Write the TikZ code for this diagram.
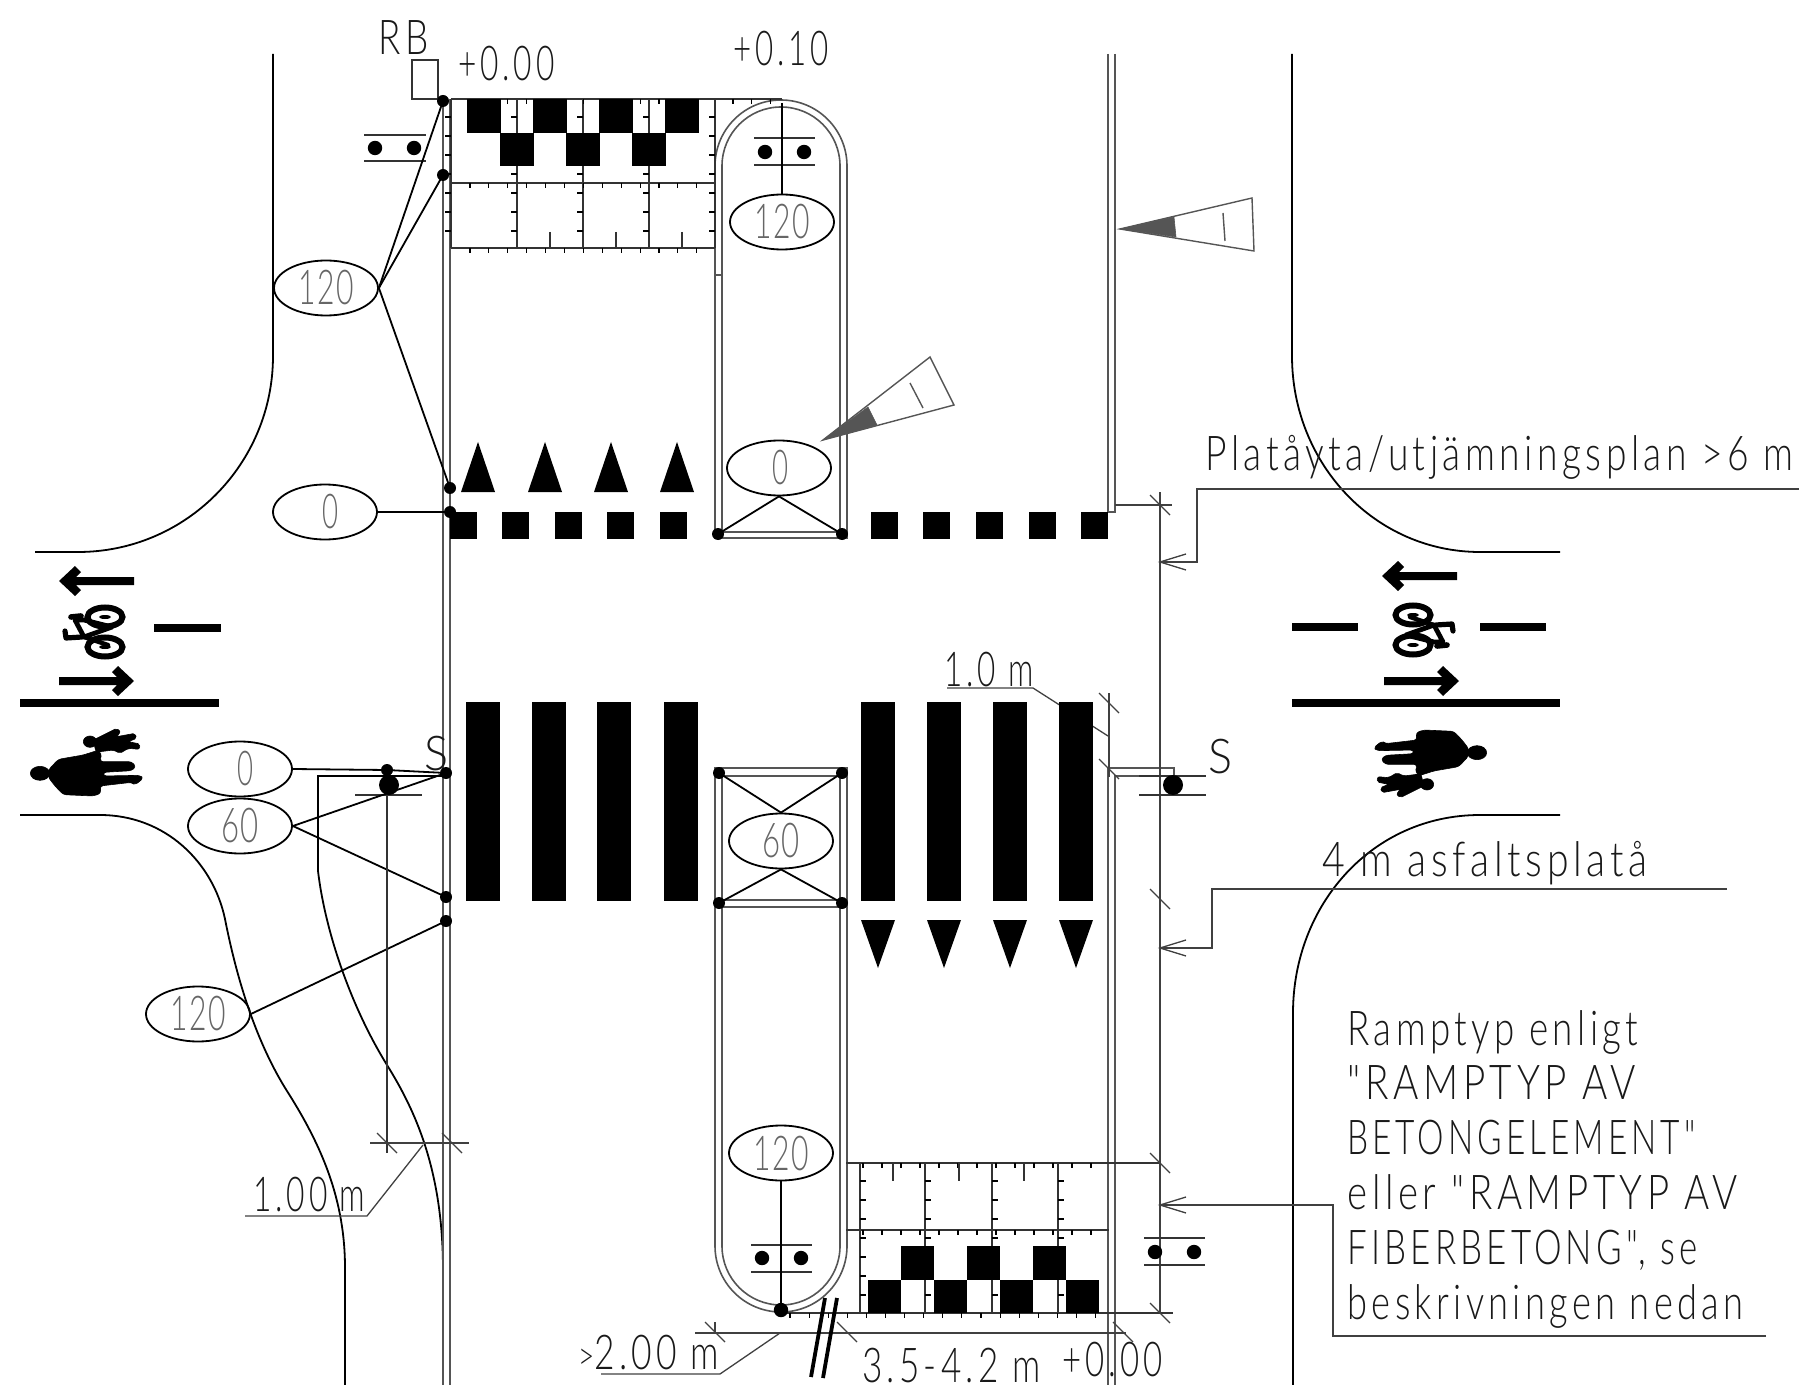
\documentclass[tikz,border=0pt]{standalone}
\usepackage{fontspec}
\usepackage{graphicx}
\usetikzlibrary{shapes.geometric}
\newfontfamily\cad{Lato Light}[LetterSpace=12]
\newfontfamily\cadn{Lato Light}[LetterSpace=6]
\newcommand\fitt[2]{\sbox0{#2}\pgfmathsetmacro\fsx{#1*0.5/\the\wd0}\scalebox{\fsx}[1]{\copy0}}
\definecolor{dbl}{HTML}{555555}
\definecolor{tgray}{HTML}{666666}
\tikzset{
  dline/.style={draw=dbl,line width=0.8pt},
  road/.style={draw=black,line width=0.9pt},
  thin1/.style={draw=black!80,line width=0.6pt},
  lead/.style={draw=black,line width=0.9pt},
  dimn/.style={draw=black!75,line width=0.65pt},
  tickm/.style={draw=black,line width=0.55pt},
  blk/.style={fill=black,draw=none},
  sil/.style={fill=black,draw=black,line width=0.3pt,line join=round},
  dotS/.style={circle,fill=black,inner sep=0pt,minimum size=6pt},
  dotM/.style={circle,fill=black,inner sep=0pt,minimum size=7.2pt},
  dotL/.style={circle,fill=black,inner sep=0pt,minimum size=10pt},
  ell/.style={ellipse,draw=black,line width=0.9pt,inner sep=0pt,minimum width=52pt,minimum height=27.5pt,text=tgray,font=\cadn\fontsize{24}{24}\selectfont},
  txt/.style={anchor=base west,inner sep=0pt,text=black!90,font=\cad\fontsize{24}{24}\selectfont},
  signtri/.style={draw=dbl,line width=0.7pt},
  signfill/.style={fill=dbl,draw=dbl,line width=0.3pt}
}
\newcommand\dslash[2]{\draw[dimn] ({#1-10},{#2-10}) -- ({#1+10},{#2+10});}
\newcommand\openarrow[2]{\draw[dimn] ({#1+26},{#2-8}) -- (#1,#2) -- ({#1+26},{#2+8});}
\newcommand\bigarrow[3]{\begin{scope}[shift={(#1,#2)},xscale=#3]
  \fill (0,0) -- (16,-15) -- (22,-9) -- (17,-4) -- (75,-4) -- (75,4) -- (17,4) -- (22,9) -- (16,15) -- cycle;
\end{scope}}
\newcommand\pedshape{%
  \begin{scope}[shift={(0,540)},scale=1/3]
  \fill[sil] (120,700) ellipse (29 and 21);
  \fill[sil,rounded corners=1.5pt] (145,690) -- (175,658) -- (250,645) -- (290,632) -- (305,640) -- (300,665) -- (395,665) -- (408,680) -- (395,692) -- (310,697) -- (310,708) -- (420,706) -- (430,715) -- (405,735) -- (395,727) -- (300,738) -- (303,760) -- (280,768) -- (190,764) -- (165,738) -- (145,712) -- cycle;
  \fill[sil] (270,605) ellipse (20 and 17);
  \fill[sil,rounded corners=1pt] (280,600) -- (350,565) -- (362,575) -- (350,590) -- (405,580) -- (410,595) -- (385,605) -- (420,612) -- (418,628) -- (385,625) -- (360,640) -- (340,630) -- (300,635) -- (290,640) -- (285,625) -- cycle;
  \end{scope}}
\newcommand\bikeshape{%
  \draw[line width=3pt] (105,617) ellipse (17.5 and 9.5);
  \draw[line width=3pt] (105,647) ellipse (17.5 and 9.5);
  \fill (105,617) ellipse (6 and 2);
  \fill (105,647) ellipse (6 and 2);
  \draw[line width=2.4pt,line cap=round,line join=round] (75,620) -- (84,637) -- (112,627) -- (84,620) -- cycle;
  \draw[line width=2.2pt,line cap=round] (84,637) -- (108,645);
  \draw[line width=2.6pt,line cap=round,line join=round] (65,631) -- (66,638) -- (82,637);
  \draw[line width=2.8pt,line cap=round] (71,617) -- (81,616);
}
\begin{document}
\begin{tikzpicture}[x=0.5pt,y=-0.5pt]
\useasboundingbox (0,0) rectangle (1799,1385);
% road edges
\draw[road] (273,54) -- (273,356) .. controls (273,464) and (186,552) .. (78,552) -- (35,552);
\draw[road] (20,815) -- (100,815) .. controls (165,815) and (213,862) .. (225,919) .. controls (238,985) and (258,1045) .. (287,1091) .. controls (322,1146) and (345,1200) .. (345,1268) -- (345,1385);
\draw[road] (443,776) -- (318,776) -- (318,871) .. controls (325,930) and (350,1005) .. (387,1065) .. controls (415,1110) and (443,1170) .. (443,1270);
\draw[road] (1292,54) -- (1292,356) .. controls (1292,464) and (1375,552) .. (1480,552) -- (1560,552);
\draw[road] (1560,815) -- (1480,815) .. controls (1372,815) and (1293,905) .. (1293,1013) -- (1293,1385);
% double kerb lines
\draw[dline] (443,99) -- (443,1385);
\draw[dline] (450,99) -- (450,1385);
\draw[dline] (1108,54) -- (1108,512);
\draw[dline] (1115,54) -- (1115,512) -- (1108,512);
\draw[dline] (1108,1385) -- (1108,768) -- (1174,768) -- (1174,776) -- (1115,776) -- (1115,1385);
% upper island
\draw[dline] (715,538) -- (715,166) arc[start angle=180,end angle=360,radius=66] -- (847,538) -- cycle;
\draw[dline] (722,532) -- (722,166) arc[start angle=180,end angle=360,radius=59] -- (840,532) -- cycle;
\draw[dline] (715,275) -- (722,275);
% lower island
\draw[dline] (715,1246) -- (715,768) -- (847,768) -- (847,1246) arc[start angle=0,end angle=180,radius=66];
\draw[dline] (722,1246) -- (722,776) -- (840,776) -- (840,1246) arc[start angle=0,end angle=180,radius=59];
\draw[dline] (722,900) -- (840,900);
\draw[dline] (715,907) -- (847,907);
% upper grid
\draw[thin1,line width=0.8pt] (451,99) -- (782,99);
\draw[thin1,line width=0.8pt] (451,183) -- (715,183);
\draw[thin1,line width=0.8pt] (451,248) -- (715,248);
\foreach \vx in {451,517,583,649,715} {
  \draw[thin1,line width=0.8pt] (\vx,99) -- (\vx,248);
  \foreach \k in {0,...,6} \draw[tickm] (\vx,{117+19*\k}) -- ({\vx-6},{117+19*\k});
}
\foreach \k in {0,...,12} {
  \draw[tickm] ({470+18.9*\k},99) -- ({470+18.9*\k},104);
  \draw[tickm] ({470+18.9*\k},183) -- ({470+18.9*\k},188);
  \draw[tickm] ({470+18.9*\k},248) -- ({470+18.9*\k},253);
}
\foreach \k in {0,1,2} \draw[tickm] ({733+18.9*\k},99) -- ({733+18.9*\k},104);
\foreach \vx in {550,616,682} \draw[thin1] (\vx,232) -- (\vx,248);
% upper tactile squares
\foreach \vx in {467,533,599,665} \fill[blk] (\vx,99) rectangle ({\vx+34},133);
\foreach \vx in {500,566,632} \fill[blk] (\vx,133) rectangle ({\vx+34},166);
% lower grid
\draw[thin1,line width=0.8pt] (846,1163) -- (1160,1163);
\draw[thin1,line width=0.8pt] (846,1230) -- (1109,1230);
\draw[thin1,line width=0.8pt] (781,1313) -- (1173,1313);
\foreach \vx in {860,925,992,1058} {
  \draw[thin1,line width=0.8pt] (\vx,1163) -- (\vx,1313);
  \foreach \k in {0,...,6} \draw[tickm] (\vx,{1181+19*\k}) -- ({\vx+6},{1181+19*\k});
}
\foreach \k in {0,...,12} {
  \draw[tickm] ({863+19*\k},1163) -- ({863+19*\k},1168);
  \draw[tickm] ({863+19*\k},1230) -- ({863+19*\k},1235);
}
\foreach \k in {0,...,16} \draw[tickm] ({790+19.1*\k},1313) -- ({790+19.1*\k},1318);
\foreach \vx in {893,959,1024} \draw[thin1] (\vx,1163) -- (\vx,1181);
\foreach \vx in {868,934,1000,1066} \fill[blk] (\vx,1280) rectangle ({\vx+33},1313);
\foreach \vx in {901,967,1033} \fill[blk] (\vx,1246) rectangle ({\vx+33},1280);
% dimension line on the right and leaders
\draw[dimn,line width=0.8pt] (1160,492) -- (1160,1313);
\draw[dimn] (1115,505) -- (1172,505);
\dslash{1160}{505}
\dslash{1160}{899}
\dslash{1160}{1163}
\dslash{1160}{1313}
\coordinate (lp1) at (1799,489);
\coordinate (la1) at (1160,562);
\draw[dimn] (lp1) -- (1197,489) -- (1197,562) -- (la1);
\openarrow{1160}{562}
\coordinate (lp2) at (1727,889);
\coordinate (la2) at (1160,948);
\draw[dimn] (lp2) -- (1212,889) -- (1212,948) -- (la2);
\openarrow{1160}{948}
\coordinate (lp3) at (1766,1336);
\coordinate (la3) at (1160,1205);
\draw[dimn] (lp3) -- (1333,1336) -- (1333,1205) -- (la3);
\openarrow{1160}{1205}
% 1.0 m dimension
\draw[dimn,line width=0.8pt] (1109,693) -- (1109,777);
\dslash{1109}{703}
\dslash{1109}{769}
\draw[dimn] (947,688) -- (1033,688) -- (1108,736);
% crossings and stop line
\foreach \vx in {466,532,597,664,861,927,993,1059} \fill[blk] (\vx,702) rectangle ({\vx+34},901);
\foreach \vx in {450,502,555,607,660,871,923,976,1029,1081} \fill[blk] (\vx,512) rectangle ({\vx+27},539);
\foreach \vx in {478,545,611,677} \fill[blk] ({\vx-17},492) -- ({\vx+17},492) -- (\vx,442) -- cycle;
\foreach \vx in {878,944,1010,1076} \fill[blk] ({\vx-17},920) -- ({\vx+17},920) -- (\vx,968) -- cycle;
% lane markings
\fill[blk] (20,699) rectangle (219,707);
\fill[blk] (154,624) rectangle (221,632);
\bigarrow{59}{581}{1}
\bigarrow{134}{681}{-1}
\fill[blk] (1292,699) rectangle (1560,707);
\fill[blk] (1292,623) rectangle (1358,631);
\fill[blk] (1480,623) rectangle (1546,631);
\bigarrow{1382}{576}{1}
\bigarrow{1459}{681}{-1}
\bikeshape
\begin{scope}[rotate around={180:(759,631)}]\bikeshape\end{scope}
\pedshape
\begin{scope}[rotate around={180:(758.5,763)}]\pedshape\end{scope}
% RB box
\draw[thin1] (412,60) rectangle (438,99);
% signal poles and dots
\draw[thin1] (364,135) -- (426,135) (364,161) -- (426,161);
\node[dotM] (s1a) at (375,148) {};
\node[dotM] (s1b) at (414,148) {};
\draw[thin1] (754,138) -- (815,138) (754,165) -- (815,165);
\node[dotM] (s2a) at (765,152) {};
\node[dotM] (s2b) at (804,152) {};
\draw[thin1] (751,1245) -- (812,1245) (751,1272) -- (812,1272);
\node[dotM] (s3a) at (762,1258) {};
\node[dotM] (s3b) at (801,1258) {};
\draw[thin1] (1144,1238) -- (1205,1238) (1144,1265) -- (1205,1265);
\node[dotM] (s4a) at (1155,1252) {};
\node[dotM] (s4b) at (1194,1252) {};
\draw[thin1] (1139,776) -- (1206,776) (1139,795) -- (1206,795);
\node[dotL] (s5) at (1173,785) {};
\draw[thin1] (355,795) -- (422,795);
\node[dotL] (s6) at (389,785) {};
\node[dotS] (s6b) at (387,770) {};
% junction dots
\node[dotS] (d1) at (443,101) {};
\node[dotS] (d2) at (443,175) {};
\node[dotS] (d3) at (450,488) {};
\node[dotS] (d4) at (450,512) {};
\node[dotS] (d5) at (446,773) {};
\node[dotS] (d6) at (446,897) {};
\node[dotS] (d7) at (446,921) {};
\node[dotS] (i1) at (718,534) {};
\node[dotS] (i2) at (842,534) {};
\node[dotS] (i3) at (719,773) {};
\node[dotS] (i4) at (842,773) {};
\node[dotS] (i5) at (719,903) {};
\node[dotS] (i6) at (842,903) {};
\node[dotM] (i7) at (781,1310) {};
\coordinate (topref) at (782,103);
% ellipses
\node[ell] (e120a) at (326,288) {\fitt{56}{120}};
\node[ell] (e0a) at (325,512) {\hspace*{5pt}\fitt{16}{0}};
\node[ell] (e0b) at (240,769) {\hspace*{5pt}\fitt{16}{0}};
\node[ell] (e60a) at (240,826) {\fitt{38}{60}};
\node[ell] (e120b) at (198,1014) {\fitt{56}{120}};
\node[ell] (e120c) at (782,222) {\fitt{56}{120}};
\node[ell] (e0c) at (779,468) {\hspace*{1pt}\fitt{16}{0}};
\node[ell] (e60b) at (781,841) {\fitt{38}{60}};
\node[ell] (e120d) at (781,1153) {\fitt{56}{120}};
% connectors
\draw[lead] (e120a.east) -- (d1.center);
\draw[lead] (e120a.east) -- (d2.center);
\draw[lead] (e120a.east) -- (d3.center);
\draw[lead] (e0a.east) -- (d4.center);
\draw[lead] (e0b.east) -- (s6b.center) -- (d5.center);
\draw[lead] (e60a.east) -- (d5.center);
\draw[lead] (e60a.east) -- (d6.center);
\draw[lead] (e120b.east) -- (d7.center);
\draw[lead] (topref) -- (e120c.north);
\draw[lead] (e0c.south) -- (i1.center);
\draw[lead] (e0c.south) -- (i2.center);
\draw[lead] (e60b.north) -- (i3.center);
\draw[lead] (e60b.north) -- (i4.center);
\draw[lead] (e60b.south) -- (i5.center);
\draw[lead] (e60b.south) -- (i6.center);
\draw[lead] (e120d.south) -- (i7.center);
% direction signs
\draw[signtri] (823,440) -- (930,357) -- (954,405) -- cycle;
\fill[signfill] (823,440) -- (868,407) -- (877,425) -- cycle;
\draw[signtri] (910,383) -- (923,408);
\draw[signtri] (1120,229) -- (1252,198) -- (1254,251) -- cycle;
\fill[signfill] (1120,229) -- (1174,217) -- (1176,237) -- cycle;
\draw[signtri] (1223,213) -- (1225,241);
% 1.00 m dimension
\coordinate (dl1) at (245,1216);
\draw[thin1] (387,795) -- (387,1153);
\draw[dimn] (370,1143) -- (469,1143);
\dslash{387}{1143}
\dslash{452}{1143}
\draw[dimn] (dl1) -- (367,1216) -- (423,1145);
% bottom dimension
\draw[dimn] (695,1333) -- (1126,1333);
\draw[dimn] (715,1322) -- (715,1333);
\dslash{715}{1332}
\dslash{847}{1332}
\dslash{1123}{1332}
\draw[dimn] (601,1374) -- (720,1374) -- (780,1333);
\draw[line width=1.9pt] (825,1298) -- (811,1377);
\draw[line width=1.9pt] (837,1298) -- (823,1378);
% labels
\node[txt] (tRB) at (378,55) {\fitt{50}{RB}};
\node[txt] (tp0) at (458,81) {\fitt{96}{+0.00}};
\node[txt] (tp1) at (733,66) {\fitt{95}{+0.10}};
\node[txt] (tplat) at (1205,471) {\fitt{588}{Platåyta/utjämningsplan >6 m}};
\node[txt] (t4m) at (1322,876) {\fitt{325}{4 m asfaltsplatå}};
\node[txt] (t10) at (944,686) {\fitt{89}{1.0 m}};
\node[txt] (t100) at (253,1211) {\fitt{112}{1.00 m}};
\node[txt] (tgt) at (578,1369) {\fitt{141}{{\fontsize{19}{19}\selectfont >}2.00 m}};
\node[txt] (t35) at (862,1382) {\fitt{178}{3.5-4.2 m}};
\node[txt] (tp2) at (1062,1376) {\fitt{100}{+0.00}};
\node[txt] (tS1) at (424,770) {\fitt{24}{S}};
\node[txt] (tS2) at (1208,773) {\fitt{24}{S}};
\node[txt] (r1) at (1347,1045) {\fitt{291}{Ramptyp enligt}};
\node[txt] (r2) at (1347,1099) {\fitt{288}{"RAMPTYP AV}};
\node[txt] (r3) at (1347,1154) {\fitt{348}{BETONGELEMENT"}};
\node[txt] (r4) at (1347,1209) {\fitt{390}{eller "RAMPTYP AV}};
\node[txt] (r5) at (1347,1264) {\fitt{350}{FIBERBETONG", se}};
\node[txt] (r6) at (1347,1319) {\fitt{396}{beskrivningen nedan}};
\end{tikzpicture}
\end{document}
